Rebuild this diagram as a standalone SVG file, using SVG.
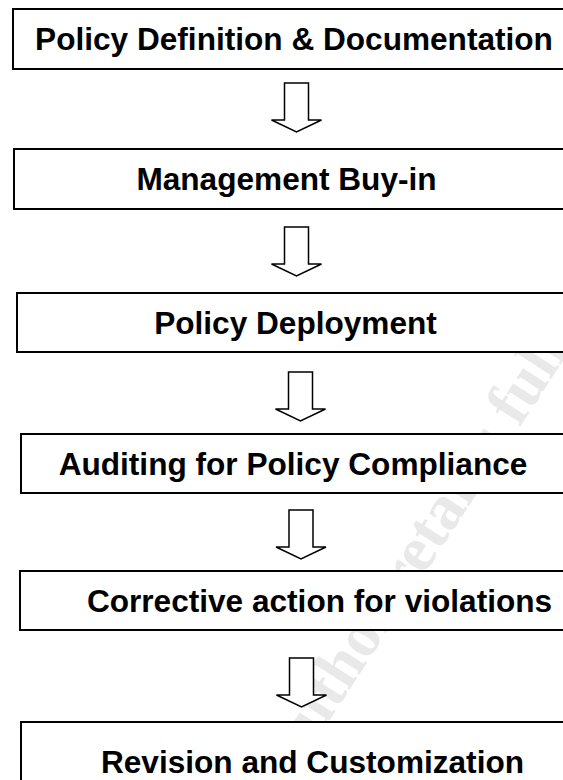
<svg xmlns="http://www.w3.org/2000/svg" width="563" height="780" viewBox="0 0 563 780">
  <style>
    .box { fill: #ffffff; stroke: #000000; stroke-width: 2; }
    .label { font-family: "Liberation Sans", Arial, sans-serif; font-weight: bold; font-size: 31.6px; fill: #000000; text-anchor: middle; }
    .arrow { fill: #ffffff; stroke: #000000; stroke-width: 1.5; stroke-linejoin: miter; }
    .mark { font-family: "Liberation Serif", "Times New Roman", serif; font-weight: bold; font-size: 64px; fill: #e9e9e9; }
  </style>
  <defs>
    <!-- hollow block arrow pointing down, origin at the top centre of the shaft -->
    <path id="down-arrow" d="M-12,0 H12 V37 H25 L0,49 L-25,37 H-12 Z"/>
  </defs>

  <rect width="563" height="780" fill="#ffffff"/>

  <!-- faint diagonal watermark behind the boxes -->
  <text class="mark" transform="translate(292,778) rotate(-57)">Author retains full</text>

  <g id="connectors">
    <use href="#down-arrow" class="arrow" x="296.5" y="83"/>
    <use href="#down-arrow" class="arrow" x="296.5" y="227"/>
    <use href="#down-arrow" class="arrow" x="300.5" y="372"/>
    <use href="#down-arrow" class="arrow" x="301" y="510"/>
    <use href="#down-arrow" class="arrow" x="301.5" y="658"/>
  </g>

  <g id="policy-definition">
    <rect class="box" x="13" y="9" width="600" height="60"/>
    <text class="label" x="294" y="50">Policy Definition &amp; Documentation</text>
  </g>

  <g id="management-buy-in">
    <rect class="box" x="14" y="149" width="600" height="60"/>
    <text class="label" x="286.5" y="190">Management Buy-in</text>
  </g>

  <g id="policy-deployment">
    <rect class="box" x="17" y="293" width="600" height="59"/>
    <text class="label" x="295.5" y="334">Policy Deployment</text>
  </g>

  <g id="auditing">
    <rect class="box" x="21" y="434" width="600" height="59"/>
    <text class="label" x="293" y="475">Auditing for Policy Compliance</text>
  </g>

  <g id="corrective-action">
    <rect class="box" x="20" y="571" width="600" height="59"/>
    <text class="label" x="319.5" y="612">Corrective action for violations</text>
  </g>

  <g id="revision">
    <rect class="box" x="21" y="722" width="600" height="80"/>
    <text class="label" x="312.5" y="773">Revision and Customization</text>
  </g>
</svg>
